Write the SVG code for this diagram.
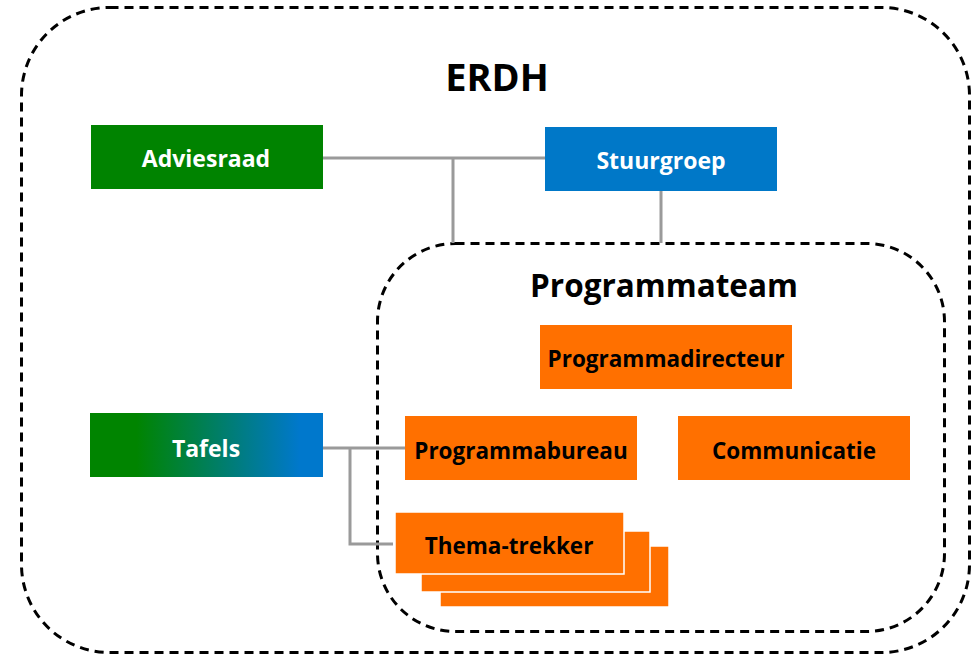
<svg xmlns="http://www.w3.org/2000/svg" width="975" height="656" viewBox="0 0 975 656">
<defs>
<linearGradient id="gTaf" x1="0" y1="0" x2="1" y2="0">
<stop offset="0.2" stop-color="#008400"/>
<stop offset="0.9" stop-color="#0078CC"/>
</linearGradient>
<style>
.frame{fill:none;stroke:#000;stroke-width:3;stroke-dasharray:9 6}
.conn{fill:none;stroke:#9a9a9a;stroke-width:3}
.lbl{font-family:"Open Sans","Noto Sans","DejaVu Sans",sans-serif;font-weight:bold;text-anchor:middle}
.w{fill:#fff;font-size:23px}
.b{fill:#000;font-size:22.5px}
.or{fill:#FF7000}
.title{font-family:"Open Sans","Noto Sans","DejaVu Sans",sans-serif;font-weight:bold;text-anchor:middle;fill:#000}
</style>
</defs>
<rect x="0" y="0" width="975" height="656" fill="#fff"/>
<g id="erdh">
<rect class="frame" x="21.5" y="7.5" width="948" height="645" rx="88" ry="88"/>
<text class="title" x="497" y="91" font-size="38">ERDH</text>
</g>
<g id="programmateam">
<rect class="frame" x="377.5" y="243.5" width="567" height="388" rx="78" ry="78"/>
<text class="title" x="664" y="297" font-size="31.5">Programmateam</text>
</g>
<g id="connectors">
<path class="conn" d="M323 158H545M453 158V243M661 191V243"/>
<path class="conn" d="M323 448H405M350 448V544H393"/>
</g>
<g id="adviesraad">
<rect x="91" y="125" width="232" height="64" fill="#008300"/>
<text class="lbl w" x="206" y="167">Adviesraad</text>
</g>
<g id="stuurgroep">
<rect x="545" y="127" width="232" height="64" fill="#0078C8"/>
<text class="lbl w" x="661" y="169">Stuurgroep</text>
</g>
<g id="tafels">
<rect x="90" y="413" width="233" height="64" fill="url(#gTaf)"/>
<text class="lbl w" x="206" y="457">Tafels</text>
</g>
<g id="programmadirecteur">
<rect class="or" x="540" y="325" width="252" height="64"/>
<text class="lbl b" x="666" y="367">Programmadirecteur</text>
</g>
<g id="programmabureau">
<rect class="or" x="405" y="416" width="232" height="64"/>
<text class="lbl b" x="521" y="459">Programmabureau</text>
</g>
<g id="communicatie">
<rect class="or" x="678" y="416" width="232" height="64"/>
<text class="lbl b" x="794" y="459">Communicatie</text>
</g>
<g id="thema-trekker">
<rect class="or" x="440" y="546" width="229" height="61" stroke="#fff" stroke-width="1.5"/>
<rect class="or" x="421" y="531" width="229" height="61" stroke="#fff" stroke-width="1.5"/>
<rect class="or" x="395" y="512" width="229" height="62" stroke="#fff" stroke-width="1.5"/>
<text class="lbl b" x="509" y="554">Thema-trekker</text>
</g>
</svg>
